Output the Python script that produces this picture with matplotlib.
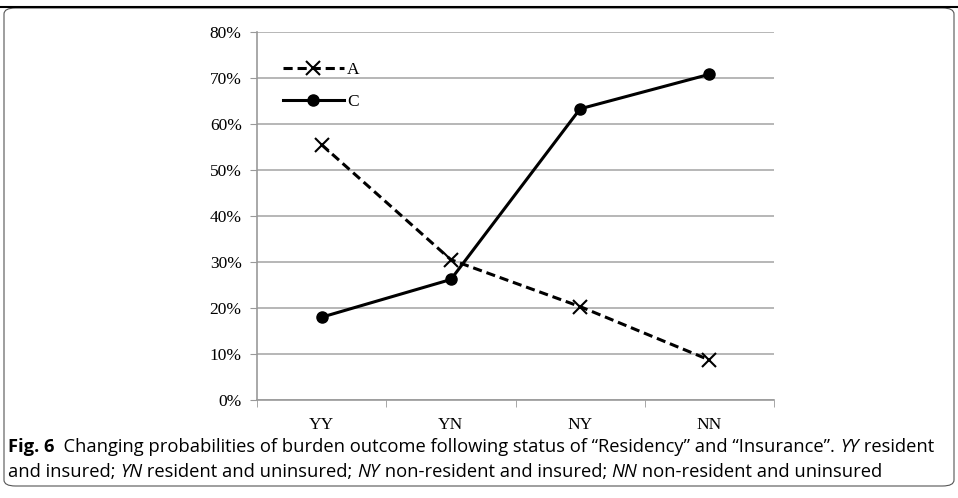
import matplotlib
matplotlib.use("Agg")
import matplotlib.pyplot as plt
from matplotlib.patches import FancyBboxPatch

categories = ["YY", "YN", "NY", "NN"]
series_a = [55.5, 30.5, 20.3, 8.7]
series_c = [18.0, 26.2, 63.3, 70.8]
yticks = [0, 10, 20, 30, 40, 50, 60, 70, 80]

fig = plt.figure(figsize=(9.58, 4.98), dpi=100)
serif = "Liberation Serif"
ax = fig.add_axes([257/958, 1-400/498, (774-257)/958, (400-32)/498])
x = list(range(len(categories)))
ax.plot(x, series_a, color="black", ls=(0, (3, 1.6)), lw=2.2, marker="x", ms=10, mew=1.5, label="A")
ax.plot(x, series_c, color="black", lw=2.2, marker="o", ms=8, label="C")
ax.set_xlim(-0.5, 3.5)
ax.set_ylim(0, 80)
ax.set_yticks(yticks)
ax.set_yticklabels([f"{v}%" for v in yticks], fontfamily=serif, fontsize=12.5)
ax.set_xticks(x)
ax.set_xticklabels(categories, fontfamily=serif, fontsize=12.5)
ax.set_xticks([-0.5, 0.5, 1.5, 2.5, 3.5], minor=True)
ax.tick_params(axis="x", which="major", length=0, pad=12)
ax.tick_params(axis="x", which="minor", length=5, color="#999999")
ax.tick_params(axis="y", length=5, color="#999999", pad=6)
ax.grid(axis="y", color="#aaaaaa", lw=1.2)
ax.set_axisbelow(True)
for s in ["top", "right"]:
    ax.spines[s].set_visible(False)
for s in ["left", "bottom"]:
    ax.spines[s].set_color("#999999")
    ax.spines[s].set_linewidth(1.2)
ax.legend(loc="upper left", bbox_to_anchor=(0.02, 0.96), frameon=False,
          prop={"family": serif, "size": 12.5}, handlelength=3.5, handletextpad=0.2,
          labelspacing=0.9)

frame = FancyBboxPatch((4/958, 12/498), 950/958, 478/498, boxstyle="round,pad=0,rounding_size=0.012",
                       transform=fig.transFigure, fill=False, ec="#555555", lw=0.8)
fig.patches.append(frame)
fig.add_artist(plt.Line2D([0, 1], [1-7/498, 1-7/498], color="black", lw=1.5))

FS = 13.2
r = fig.canvas.get_renderer()
def line(parts, y, x0):
    xpos = x0
    for txt, style in parts:
        tt = fig.text(xpos/958, 1-y/498, txt, fontfamily="Open Sans", fontsize=FS, va="center",
                      fontstyle="italic" if style == "i" else "normal",
                      fontweight="bold" if style == "b" else "normal")
        xpos += tt.get_window_extent(renderer=r).width
    return xpos
line([("Fig. 6", "b"), ("  Changing probabilities of burden outcome following status of \u201cResidency\u201d and \u201cInsurance\u201d. ", "n"),
      ("YY", "i"), (" resident", "n")], 447, 8)
line([("and insured; ", "n"), ("YN", "i"), (" resident and uninsured; ", "n"), ("NY", "i"),
      (" non-resident and insured; ", "n"), ("NN", "i"), (" non-resident and uninsured", "n")], 472, 8)
fig.savefig("out.png", dpi=100)
